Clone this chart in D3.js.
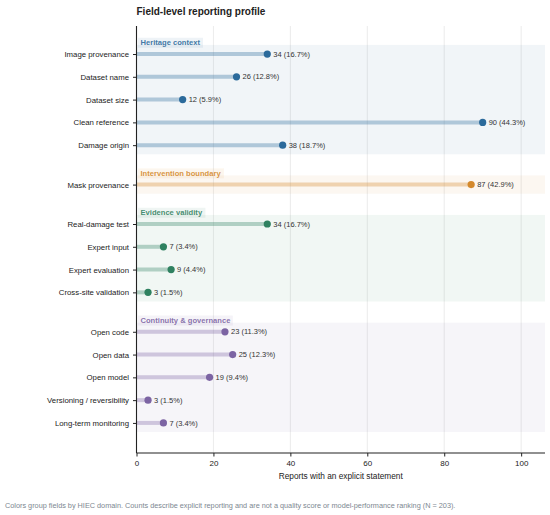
<!DOCTYPE html>
<html>
<head>
  <script src="https://d3js.org/d3.v7.min.js"></script>
  <style>
    body { margin: 0; background: #fff; }
    text { font-family: "Liberation Sans", Arial, sans-serif; }
  </style>
</head>
<body>
  <script>
    // data
    const groups = ["Heritage context", "Intervention boundary", "Evidence validity", "Continuity & governance"];
    const groupColors = ["#2b6a9b", "#d4892c", "#2f8160", "#7c64a3"];
    const fields = [
      "Image provenance", "Dataset name", "Dataset size", "Clean reference", "Damage origin",
      "Mask provenance",
      "Real-damage test", "Expert input", "Expert evaluation", "Cross-site validation",
      "Open code", "Open data", "Open model", "Versioning / reversibility", "Long-term monitoring"
    ];
    const fieldGroup = [0, 0, 0, 0, 0, 1, 2, 2, 2, 2, 3, 3, 3, 3, 3];
    const counts = [34, 26, 12, 90, 38, 87, 34, 7, 9, 3, 23, 25, 19, 3, 7];
    const N = 203;
    const xTicks = [0, 20, 40, 60, 80, 100];

    const width = 550, height = 515;
    const margin = { top: 26, right: 5, bottom: 62, left: 136.5 };
    const gap = 0.73;

    // row positions with a gap between domains
    const pos = fields.map((f, i) => i + gap * fieldGroup[i]);
    const last = pos[pos.length - 1];

    const svg = d3.select("body").append("svg")
      .attr("width", width)
      .attr("height", height);

    const x = d3.scaleLinear()
      .domain([0, d3.max(counts) * 1.18])
      .range([margin.left, width - margin.right]);

    const y = d3.scaleLinear()
      .domain([-1.23, last + 1.32])
      .range([margin.top, height - margin.bottom]);

    // grid
    svg.append("g")
      .selectAll("line")
      .data(xTicks.slice(1))
      .join("line")
      .attr("x1", d => x(d)).attr("x2", d => x(d))
      .attr("y1", margin.top).attr("y2", height - margin.bottom)
      .attr("stroke", "#e6e6e6")
      .attr("stroke-width", 0.8);

    // domain bands
    const bands = groups.map((g, gi) => {
      const p = pos.filter((_, i) => fieldGroup[i] === gi);
      return { name: g, color: groupColors[gi], y0: d3.min(p), y1: d3.max(p) };
    });

    svg.append("g")
      .selectAll("rect")
      .data(bands)
      .join("rect")
      .attr("x", x(0))
      .attr("width", x.range()[1] - x(0))
      .attr("y", d => y(d.y0 - 0.4))
      .attr("height", d => y(d.y1 + 0.4) - y(d.y0 - 0.4))
      .attr("fill", d => d.color)
      .attr("fill-opacity", 0.065);

    // stems
    svg.append("g")
      .selectAll("line")
      .data(counts)
      .join("line")
      .attr("x1", x(0))
      .attr("x2", d => x(d))
      .attr("y1", (d, i) => y(pos[i]))
      .attr("y2", (d, i) => y(pos[i]))
      .attr("stroke", (d, i) => groupColors[fieldGroup[i]])
      .attr("stroke-opacity", 0.33)
      .attr("stroke-width", 4);

    // dots
    svg.append("g")
      .selectAll("circle")
      .data(counts)
      .join("circle")
      .attr("cx", d => x(d))
      .attr("cy", (d, i) => y(pos[i]))
      .attr("r", 3.6)
      .attr("fill", (d, i) => groupColors[fieldGroup[i]]);

    // value labels
    svg.append("g")
      .selectAll("text")
      .data(counts)
      .join("text")
      .attr("x", d => x(d) + 6)
      .attr("y", (d, i) => y(pos[i]))
      .attr("dy", "0.35em")
      .attr("font-size", 7.5)
      .attr("fill", "#333")
      .text(d => `${d} (${(d / N * 100).toFixed(1)}%)`);

    // domain labels with light boxes
    const lab = svg.append("g")
      .selectAll("g")
      .data(bands)
      .join("g")
      .attr("transform", d => `translate(${x(0) + 4},${y(d.y0 - 0.5)})`);

    lab.append("text")
      .attr("dy", "0.35em")
      .attr("font-size", 7.6)
      .attr("font-weight", "bold")
      .attr("fill", d => d.color)
      .attr("fill-opacity", 0.9)
      .text(d => d.name);

    lab.insert("rect", "text")
      .each(function () {
        const bb = this.parentNode.querySelector("text").getBBox();
        d3.select(this)
          .attr("x", bb.x - 2.5).attr("y", bb.y - 0.5)
          .attr("width", bb.width + 5).attr("height", bb.height + 1);
      })
      .attr("fill", d => d.color)
      .attr("fill-opacity", 0.08);

    // y axis
    const yAxis = svg.append("g")
      .attr("transform", `translate(${x(0)},0)`)
      .call(d3.axisLeft(y).tickValues(pos).tickFormat((d, i) => fields[i]).tickSize(3.5).tickPadding(4));
    yAxis.select(".domain").attr("stroke", "#222").attr("stroke-width", 1.1).attr("d", `M0,${margin.top}V${height - margin.bottom}`);
    yAxis.selectAll(".tick line").attr("stroke", "#222");
    yAxis.selectAll(".tick text").attr("font-size", 7.8).attr("fill", "#222");

    // x axis
    const xAxis = svg.append("g")
      .attr("transform", `translate(0,${height - margin.bottom})`)
      .call(d3.axisBottom(x).tickValues(xTicks).tickSize(3.5).tickPadding(4));
    xAxis.select(".domain").attr("stroke", "#222").attr("stroke-width", 1.1).attr("d", `M${x.range()[0]},0H${x.range()[1]}`);
    xAxis.selectAll(".tick line").attr("stroke", "#222");
    xAxis.selectAll(".tick text").attr("font-size", 8).attr("fill", "#222");

    svg.append("text")
      .attr("x", (x.range()[0] + x.range()[1]) / 2)
      .attr("y", height - margin.bottom + 26)
      .attr("text-anchor", "middle")
      .attr("font-size", 8.3)
      .attr("fill", "#222")
      .text("Reports with an explicit statement");

    // title
    svg.append("text")
      .attr("x", x(0))
      .attr("y", 15)
      .attr("font-size", 10)
      .attr("font-weight", "bold")
      .attr("fill", "#222")
      .text("Field-level reporting profile");

    // footnote
    svg.append("text")
      .attr("x", 5)
      .attr("y", 508)
      .attr("font-size", 7.3)
      .attr("fill", "#7d8791")
      .text("Colors group fields by HIEC domain. Counts describe explicit reporting and are not a quality score or model-performance ranking (N = 203).");
  </script>
</body>
</html>
